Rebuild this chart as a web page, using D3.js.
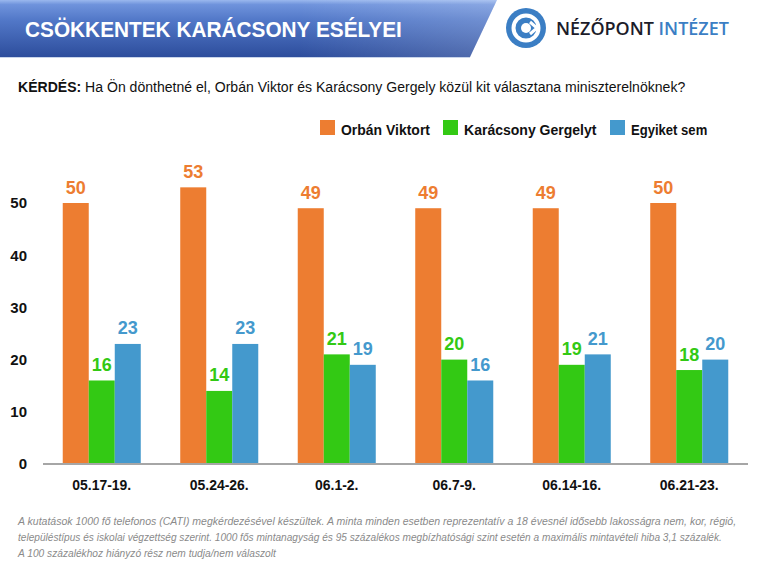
<!DOCTYPE html>
<html><head><meta charset="utf-8">
<script src="https://cdn.jsdelivr.net/npm/d3@7"></script>
<style>body{margin:0;background:#fff}svg{display:block}</style>
</head><body>
<script>
const categories = ["05.17-19.","05.24-26.","06.1-2.","06.7-9.","06.14-16.","06.21-23."];
const seriesNames = ["Orbán Viktort","Karácsony Gergelyt","Egyiket sem"];
const orban = [50,53,49,49,49,50];
const karacsony = [16,14,21,20,19,18];
const egyiket = [23,23,19,16,21,20];
const yTicks = [0,10,20,30,40,50];
const colors = ["#ED7D31","#33C914","#4499CD"];
const seriesValues = [orban, karacsony, egyiket];

const W=768,H=567;
const svg=d3.select("body").append("svg").attr("width",W).attr("height",H);
const defs=svg.append("defs");
const g1=defs.append("linearGradient").attr("id","bannerV").attr("x1",0).attr("y1",0).attr("x2",0).attr("y2",1);
[[0,"#9ab8ee"],[0.08,"#6f93dc"],[0.35,"#5278c8"],[1,"#2d4d9c"]].forEach(d=>g1.append("stop").attr("offset",d[0]).attr("stop-color",d[1]));
const g2=defs.append("linearGradient").attr("id","bannerH").attr("x1",0).attr("y1",0).attr("x2",1).attr("y2",0);
[[0,"#ffffff",0],[0.6,"#ffffff",0],[1,"#ffffff",0.18]].forEach(d=>g2.append("stop").attr("offset",d[0]).attr("stop-color",d[1]).attr("stop-opacity",d[2]));

function fit(sel,width){
  const len=sel.node().getComputedTextLength();
  const x=+sel.attr("x"), y=+sel.attr("y");
  const k=width/len;
  sel.attr("x",0).attr("y",0).attr("transform",`translate(${x},${y}) scale(${k},1)`);
}

// Banner
svg.append("path").attr("d","M0,0 L497,0 L470,57 L0,57 Z").attr("fill","url(#bannerV)");
svg.append("path").attr("d","M0,0 L497,0 L470,57 L0,57 Z").attr("fill","url(#bannerH)");
svg.append("line").attr("x1",0).attr("x2",470).attr("y1",57.5).attr("y2",57.5).attr("stroke","#c8d4ea").attr("stroke-width",1);
const title=svg.append("text").attr("x",25).attr("y",37).attr("fill","#fff")
  .attr("font-family","Liberation Sans, Arial, sans-serif").attr("font-weight","bold").attr("font-size",22)
  .text("CSÖKKENTEK KARÁCSONY ESÉLYEI");
fit(title,377);

// Logo
const lg=svg.append("g").attr("transform","translate(526,28)");
lg.append("circle").attr("r",20).attr("fill","#3b7ec4");
lg.append("circle").attr("r",12.5).attr("fill","none").attr("stroke","#fff").attr("stroke-width",4);
lg.append("path").attr("d","M-2,-8 L9,0 L-2,8 Z").attr("fill","#3b7ec4");
lg.append("circle").attr("r",5).attr("fill","#fff");
lg.append("path").attr("d","M4,-6 L11,0 L4,6").attr("fill","none").attr("stroke","#fff").attr("stroke-width",3);
const lt=svg.append("text").attr("x",556).attr("y",35).attr("font-family","Open Sans, sans-serif").attr("font-weight",600).attr("font-size",17.5);
lt.append("tspan").attr("fill","#1c1c2a").text("NÉZŐPONT ");
lt.append("tspan").attr("fill","#3b7ec4").text("INTÉZET");
fit(lt,173);

// Question
const q=svg.append("text").attr("x",18).attr("y",91.7).attr("font-family","Liberation Sans, Arial, sans-serif").attr("font-size",15.5).attr("fill","#111");
q.append("tspan").attr("font-weight","bold").text("KÉRDÉS:");
q.append("tspan").text(" Ha Ön dönthetné el, Orbán Viktor és Karácsony Gergely közül kit választana miniszterelnöknek?");
fit(q,668);

// Legend
const legX=[320,443,610], legW=[89,132.7,76.3];
seriesNames.forEach((s,i)=>{
  svg.append("rect").attr("x",legX[i]).attr("y",120).attr("width",15).attr("height",15).attr("fill",colors[i]);
  const t=svg.append("text").attr("x",legX[i]+21).attr("y",134.5).attr("font-family","Liberation Sans, Arial, sans-serif")
    .attr("font-weight","bold").attr("font-size",15.5).attr("fill","#111").text(s);
  fit(t,legW[i]);
});

// Scales
const x0=d3.scaleBand().domain(categories).range([43,748]).paddingInner(0.336).paddingOuter(0.168);
const x1=d3.scaleBand().domain(seriesNames).range([0,x0.bandwidth()]);
const y=d3.scaleLinear().domain([0,50]).range([464,203]);

// Y axis
const ya=svg.append("g").attr("transform","translate(30,0)")
  .call(d3.axisLeft(y).tickValues(yTicks).tickSize(0).tickPadding(3));
ya.select(".domain").remove();
ya.selectAll("text").attr("font-family","Liberation Sans, Arial, sans-serif").attr("font-weight","bold").attr("font-size",15).attr("fill","#111");

// Bars
const groups=svg.append("g").selectAll("g").data(categories).join("g").attr("transform",c=>`translate(${x0(c)},0)`);
seriesNames.forEach((s,i)=>{
  groups.append("rect").attr("x",x1(s)).attr("width",x1.bandwidth())
    .attr("y",(c,j)=>y(seriesValues[i][j])).attr("height",(c,j)=>y(0)-y(seriesValues[i][j])).attr("fill",colors[i]);
  groups.append("text").attr("x",x1(s)+x1.bandwidth()/2).attr("y",(c,j)=>y(seriesValues[i][j])-9.5)
    .attr("text-anchor","middle").attr("font-family","Liberation Sans, Arial, sans-serif").attr("font-weight","bold")
    .attr("font-size",18).attr("fill",colors[i]).text((c,j)=>seriesValues[i][j]);
});

// X axis
const xa=svg.append("g").attr("transform","translate(0,464)").call(d3.axisBottom(x0).tickSize(0).tickPadding(15));
xa.select(".domain").attr("stroke","#a6a6a6").attr("stroke-width",2).attr("d","M43,0H748");
xa.selectAll("text").attr("font-family","Liberation Sans, Arial, sans-serif").attr("font-weight","bold").attr("font-size",15.5).attr("fill","#111")
  .attr("transform","scale(0.9,1)").attr("x",0);
xa.selectAll(".tick text").attr("y",26).attr("dy",null);

// Footnote
const notes=[
 "A kutatások 1000 fő telefonos (CATI) megkérdezésével készültek. A minta minden esetben reprezentatív a 18 évesnél idősebb lakosságra nem, kor, régió,",
 "településtípus és iskolai végzettség szerint. 1000 fős mintanagyság és 95 százalékos megbízhatósági szint esetén a maximális mintavételi hiba 3,1 százalék.",
 "A 100 százalékhoz hiányzó rész nem tudja/nem válaszolt"];
const noteW=[719,704,258];
notes.forEach((n,i)=>{
  const t=svg.append("text").attr("x",18).attr("y",525+i*16).attr("font-family","Liberation Sans, Arial, sans-serif")
    .attr("font-style","italic").attr("font-size",11.5).attr("fill","#8a8a8a").text(n);
  fit(t,noteW[i]);
});
</script>
</body></html>
